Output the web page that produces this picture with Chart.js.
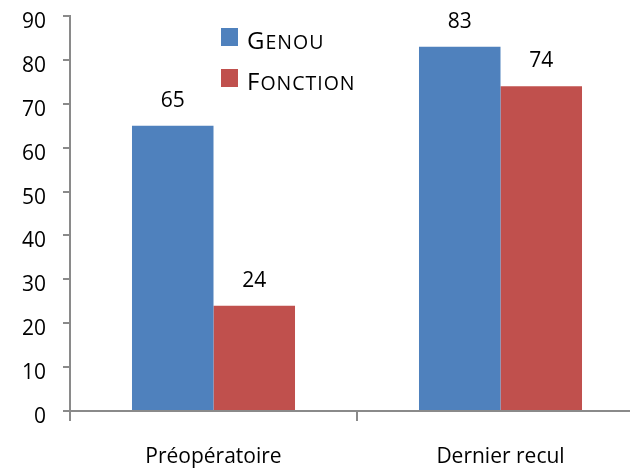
<!DOCTYPE html>
<html>
<head>
<meta charset="utf-8">
<script src="https://cdn.jsdelivr.net/npm/chart.js@4/dist/chart.umd.min.js"></script>
<style>
  html, body { margin: 0; padding: 0; background: #fff; overflow: hidden; }
  #wrap { position: relative; width: 650px; height: 471px; }
</style>
</head>
<body>
<div id="wrap"><canvas id="chart"></canvas></div>
<script>
// Scores before surgery and at last follow-up
const categories = ['Préopératoire', 'Dernier recul'];
const seriesNames = ['Genou', 'Fonction'];
const genouValues = [65, 83];
const fonctionValues = [24, 74];
const yMin = 0;
const yMax = 90;
const yStep = 10;

const FONT = '"Open Sans", "DejaVu Sans", sans-serif';
const TEXT = '#000';
const AXIS = '#8a8a8a';
const COLORS = ['#4F81BD', '#C0504D'];

// Value printed above each bar
const valueLabels = {
  id: 'valueLabels',
  afterDatasetsDraw(chart) {
    const ctx = chart.ctx;
    ctx.save();
    ctx.font = '21px ' + FONT;
    ctx.fillStyle = TEXT;
    ctx.textAlign = 'center';
    ctx.textBaseline = 'middle';
    chart.data.datasets.forEach((ds, i) => {
      chart.getDatasetMeta(i).data.forEach((bar, j) => {
        ctx.fillText(String(ds.data[j]), bar.x, bar.y - 25);
      });
    });
    ctx.restore();
  }
};

// Legend with small-capital labels, placed inside the plot
const smallCapsLegend = {
  id: 'smallCapsLegend',
  afterDraw(chart) {
    const ctx = chart.ctx;
    const big = 24, small = 19.5;
    const x0 = 221, y0 = 28, rowGap = 41;
    ctx.save();
    ctx.textBaseline = 'alphabetic';
    ctx.textAlign = 'left';
    if ('letterSpacing' in ctx) ctx.letterSpacing = '1px';
    chart.data.datasets.forEach((ds, i) => {
      const top = y0 + i * rowGap;
      ctx.fillStyle = ds.backgroundColor;
      ctx.fillRect(x0, top, 17, 18);
      const label = ds.label.toUpperCase();
      let x = x0 + 26;
      const base = top + 21;
      ctx.fillStyle = TEXT;
      ctx.font = big + 'px ' + FONT;
      ctx.fillText(label[0], x, base);
      x += ctx.measureText(label[0]).width;
      ctx.font = small + 'px ' + FONT;
      ctx.fillText(label.slice(1), x, base);
    });
    ctx.restore();
  }
};

new Chart(document.getElementById('chart'), {
  type: 'bar',
  data: {
    labels: categories,
    datasets: [
      { label: seriesNames[0], data: genouValues, backgroundColor: COLORS[0] },
      { label: seriesNames[1], data: fonctionValues, backgroundColor: COLORS[1] }
    ]
  },
  options: {
    responsive: true,
    maintainAspectRatio: false,
    animation: false,
    devicePixelRatio: 1,
    layout: { padding: { top: 16, right: 6, left: 0, bottom: 0 } },
    datasets: {
      bar: { barPercentage: 1, categoryPercentage: 0.568, borderWidth: 0 }
    },
    plugins: {
      legend: { display: false },
      tooltip: { enabled: false }
    },
    scales: {
      x: {
        offset: true,
        grid: {
          offset: true, drawOnChartArea: false, drawTicks: true,
          tickLength: 10, color: AXIS, lineWidth: 2
        },
        border: { display: true, color: AXIS, width: 2 },
        ticks: { font: { family: FONT, size: 21 }, color: TEXT, padding: 23 },
        afterFit(scale) { scale.height = 60; scale.paddingLeft = 0; scale.paddingRight = 0; }
      },
      y: {
        min: yMin,
        max: yMax,
        ticks: {
          stepSize: yStep, font: { family: FONT, size: 21 }, color: TEXT,
          padding: 17, labelOffset: 6
        },
        grid: {
          drawOnChartArea: false, drawTicks: true,
          tickLength: 7, color: AXIS, lineWidth: 2
        },
        border: { display: true, color: AXIS, width: 2 },
        afterFit(scale) {
          scale.width = 70;
          scale.paddingTop = 0;
          scale.paddingBottom = 0;
        }
      }
    }
  },
  plugins: [valueLabels, smallCapsLegend]
});
</script>
</body>
</html>
